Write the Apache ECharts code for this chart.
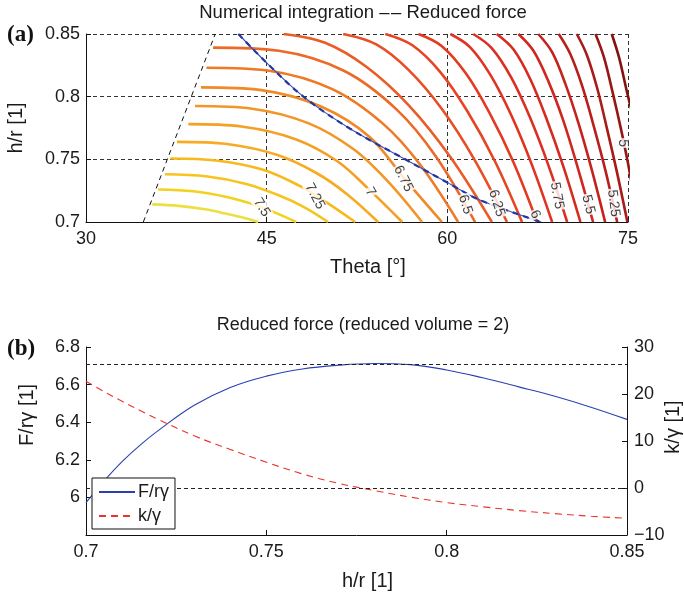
<!DOCTYPE html>
<html>
<head>
<meta charset="utf-8">
<script src="https://cdn.jsdelivr.net/npm/echarts@6/dist/echarts.min.js"></script>
<style>
  html, body { margin: 0; padding: 0; background: #fff; }
  #chart { width: 684px; height: 594px; }
</style>
</head>
<body>
<div id="chart"></div>
<script>
// ---- Panel (a): contour levels of the reduced force over (theta, h/r) ----
const contourLevels = [7.625, 7.5, 7.375, 7.25, 7.125, 7, 6.875, 6.75, 6.625, 6.5, 6.375, 6.25,
                       6.125, 6, 5.875, 5.75, 5.625, 5.5, 5.375, 5.25, 5.125, 5, 4.875];

const contourColors = ['#ece040', '#f3d21c', '#f7c41f', '#f8b91d', '#f6ab22', '#f4a025', '#f29627',
                       '#f08a27', '#ef7a25', '#ec6a25', '#ea5c25', '#e84f24', '#e64523', '#e33b22',
                       '#e03422', '#dc2f21', '#d62b20', '#cf271f', '#c4231d', '#b81f1b', '#a81b18',
                       '#961714', '#841310'];

// one polyline per level, [theta in degrees, h/r]
const contourPaths = [
  [[35.5, 0.7141], [37.7, 0.7129], [39.9, 0.7101], [41.6, 0.7067], [43.0, 0.7036], [44.3, 0.70]],
  [[36.0, 0.7259], [38.9, 0.7245], [41.7, 0.7199], [44.0, 0.7137], [45.7, 0.7075], [47.45, 0.70]],
  [[36.55, 0.7381], [39.95, 0.7365], [43.3, 0.7304], [46.0, 0.7213], [48.1, 0.7119], [50.1, 0.70]],
  [[37.0, 0.7507], [40.8, 0.7491], [44.7, 0.7417], [47.7, 0.7290], [50.0, 0.7155], [52.35, 0.70]],
  [[37.55, 0.7639], [41.7, 0.7622], [45.9, 0.7534], [49.2, 0.7387], [51.7, 0.7220], [54.25, 0.70]],
  [[38.5, 0.7781], [42.9, 0.7762], [47.4, 0.7661], [50.9, 0.7483], [53.6, 0.7250], [56.25, 0.70]],
  [[39.05, 0.7925], [43.8, 0.7904], [48.5, 0.7787], [52.25, 0.7578], [55.1, 0.7320], [57.9, 0.70]],
  [[39.55, 0.8074], [44.55, 0.8052], [49.55, 0.7920], [53.55, 0.7679], [56.4, 0.7350], [59.55, 0.70]],
  [[40.0, 0.8231], [45.2, 0.8207], [50.45, 0.8060], [54.65, 0.7785], [57.75, 0.7457], [60.9, 0.70]],
  [[40.55, 0.8391], [46.0, 0.8366], [51.45, 0.8205], [55.8, 0.7897], [59.05, 0.7523], [62.3, 0.70]],
  [[46.4, 0.85], [49.85, 0.8430], [53.3, 0.8237], [56.8, 0.7931], [60.25, 0.7519], [63.7, 0.70]],
  [[51.35, 0.85], [54.1, 0.8417], [56.8, 0.8212], [59.55, 0.7901], [62.25, 0.7497], [64.95, 0.70]],
  [[54.85, 0.85], [57.1, 0.8410], [59.4, 0.8198], [61.65, 0.7886], [63.95, 0.7485], [66.2, 0.70]],
  [[57.6, 0.85], [59.55, 0.8403], [61.55, 0.8184], [63.5, 0.7870], [65.5, 0.7474], [67.45, 0.70]],
  [[60.25, 0.85], [61.9, 0.8394], [63.6, 0.8170], [65.3, 0.7854], [67.0, 0.7462], [68.7, 0.70]],
  [[62.15, 0.85], [63.7, 0.8386], [65.3, 0.8154], [66.85, 0.7837], [68.4, 0.7450], [69.95, 0.70]],
  [[64.1, 0.85], [65.5, 0.8376], [66.9, 0.8137], [68.25, 0.7820], [69.65, 0.7438], [71.05, 0.70]],
  [[65.9, 0.85], [67.15, 0.8366], [68.4, 0.8120], [69.65, 0.7803], [70.85, 0.7426], [72.1, 0.70]],
  [[67.55, 0.85], [68.7, 0.8355], [69.8, 0.8102], [70.9, 0.7785], [72.0, 0.7414], [73.1, 0.70]],
  [[69.25, 0.85], [70.2, 0.8342], [71.2, 0.8084], [72.15, 0.7767], [73.15, 0.7402], [74.1, 0.70]],
  [[70.75, 0.85], [71.6, 0.8329], [72.45, 0.8065], [73.25, 0.7747], [74.1, 0.7390], [74.95, 0.70]],
  [[72.3, 0.85], [73.0, 0.8315], [73.7, 0.8044], [74.45, 0.7727], [75.0, 0.7468], [75.4, 0.725]],
  [[73.65, 0.85], [74.25, 0.8315], [74.9, 0.8044], [75.4, 0.785]]
];

// inline level labels
const labelLevels = [7.5, 7.25, 7, 6.75, 6.5, 6.25, 6, 5.75, 5.5, 5.25, 5];
const labelPoints = [[44.6, 0.7117], [49.0, 0.7205], [53.6, 0.7240], [56.35, 0.7345], [61.5, 0.7140],
                     [64.1, 0.7150], [67.3, 0.7060], [69.1, 0.7210], [71.7, 0.7140], [73.8, 0.7150],
                     [74.6, 0.7630]];

// left limit of the solution domain
const domainEdge = [[34.76, 0.70], [40.73, 0.85]];

// reduced-force curve
const reducedForcePath = [[42.65, 0.85], [45.0, 0.827], [48.05, 0.80], [51.9, 0.7746], [56.5, 0.75],
                          [60.0, 0.7315], [62.7, 0.7175], [67.8, 0.70]];

// ---- Panel (b): reduced force and k versus h/r ----
const hr = [0.70, 0.705, 0.71, 0.715, 0.72, 0.73, 0.74, 0.75, 0.76, 0.77, 0.78, 0.79, 0.80,
            0.81, 0.82, 0.83, 0.84, 0.85];
const forceValues = [5.972, 6.087, 6.19, 6.278, 6.355, 6.49, 6.585, 6.645, 6.683, 6.703, 6.712, 6.706,
                     6.678, 6.636, 6.588, 6.538, 6.48, 6.415];
const kValues = [22.7, 20.5, 18.45, 16.5, 14.6, 11.1, 8.2, 5.5, 3.0, 1.0, -0.55, -1.95, -3.1,
                 -4.0, -4.8, -5.45, -6.0, -6.45];

const FONT = '"Liberation Sans", Arial, Helvetica, sans-serif';
const labelAngles = [-58, -62, -60, -63, -73, -73, -65, -80, -76, -83, -90];

const chart = echarts.init(document.getElementById('chart'), null, { renderer: 'canvas' });

const dash = { type: [4, 3], color: '#333', width: 1 };
const axisBase = {
  axisLine: { show: true, onZero: false, lineStyle: { color: '#111', width: 1 } },
  axisTick: { show: true, inside: true, length: 5, lineStyle: { color: '#111' } },
  axisLabel: { fontFamily: FONT, fontSize: 18, color: '#1a1a1a' },
  nameTextStyle: { fontFamily: FONT, fontSize: 20, color: '#1a1a1a' },
  nameLocation: 'middle'
};
// horizontal axis titles sit a little right of the plot centre
const xNameStyle = Object.assign({}, axisBase.nameTextStyle, { padding: [0, 0, 0, 22] });

const series = [];

contourPaths.forEach((path, i) => {
  series.push({
    name: 'level ' + contourLevels[i],
    type: 'line', xAxisIndex: 0, yAxisIndex: 0,
    data: path, smooth: 0.35,
    symbol: 'none', silent: true, z: 2,
    lineStyle: { color: contourColors[i], width: 2.6, cap: 'butt' }
  });
});

series.push({
  name: 'domain edge', type: 'line', xAxisIndex: 0, yAxisIndex: 0,
  data: domainEdge, symbol: 'none', silent: true, z: 3,
  lineStyle: { color: '#111', width: 1, type: [5, 4] }
});

series.push({
  name: 'reduced force', type: 'line', xAxisIndex: 0, yAxisIndex: 0,
  data: reducedForcePath, smooth: 0.35, symbol: 'none', silent: true, z: 4,
  lineStyle: { color: '#3550c0', width: 1.1 }
});
series.push({
  name: 'reduced force overlay', type: 'line', xAxisIndex: 0, yAxisIndex: 0,
  data: reducedForcePath, smooth: 0.35, symbol: 'none', silent: true, z: 4,
  lineStyle: { color: '#24389a', width: 2.2, type: [6, 5] }
});

series.push({
  name: 'level labels', type: 'scatter', xAxisIndex: 0, yAxisIndex: 0,
  symbolSize: 0, silent: true, z: 6,
  data: labelPoints.map((p, i) => ({
    value: p,
    label: { formatter: String(labelLevels[i]), rotate: labelAngles[i] }
  })),
  label: {
    show: true, position: 'inside', fontFamily: FONT, fontSize: 14, color: '#111',
    backgroundColor: '#fff', padding: [0, 1]
  }
});

series.push({
  name: 'F/rγ', type: 'line', xAxisIndex: 1, yAxisIndex: 1,
  data: hr.map((x, i) => [x, forceValues[i]]), smooth: 0.4, symbol: 'none', z: 3,
  lineStyle: { color: '#2b40b0', width: 1.1 }, itemStyle: { color: '#2b40b0' },
  markLine: {
    silent: true, symbol: 'none', label: { show: false },
    lineStyle: { color: '#222', width: 1, type: [4, 3] },
    data: [{ yAxis: Math.max(...forceValues) }]
  }
});
series.push({
  name: 'k/γ', type: 'line', xAxisIndex: 1, yAxisIndex: 2,
  data: hr.map((x, i) => [x, kValues[i]]), smooth: 0.4, symbol: 'none', z: 3,
  lineStyle: { color: '#e8352e', width: 1.1, type: [7, 5] }, itemStyle: { color: '#e8352e' },
  markLine: {
    silent: true, symbol: 'none', label: { show: false },
    lineStyle: { color: '#222', width: 1, type: [4, 3] },
    data: [{ yAxis: 0 }]
  }
});

const option = {
  backgroundColor: '#fff',
  animation: false,
  title: [
    { text: 'Numerical integration \u2013\u200A\u2013 Reduced force', left: 363, top: 3, padding: 0, textAlign: 'center',
      textStyle: { fontFamily: FONT, fontSize: 18.5, fontWeight: 'normal', color: '#1a1a1a' } },
    { text: 'Reduced force (reduced volume = 2)', left: 363, top: 316, padding: 0, textAlign: 'center',
      textStyle: { fontFamily: FONT, fontSize: 18, fontWeight: 'normal', color: '#1a1a1a' } }
  ],
  graphic: [
    { type: 'text', left: 7, top: 24, style: { text: '(a)', font: 'bold 23px "Liberation Serif", "Times New Roman", serif', fill: '#111' } },
    { type: 'text', left: 7, top: 338, style: { text: '(b)', font: 'bold 23px "Liberation Serif", "Times New Roman", serif', fill: '#111' } }
  ],
  legend: {
    data: ['F/rγ', 'k/γ'], orient: 'vertical', left: 92, top: 478,
    backgroundColor: '#fff', borderColor: '#111', borderWidth: 1, borderRadius: 0,
    padding: [5, 6, 4, 6], itemWidth: 36, itemHeight: 12, itemGap: 6,
    itemStyle: { opacity: 0 },
    textStyle: { fontFamily: FONT, fontSize: 18, color: '#1a1a1a', padding: [0, 0, 0, -2] },
    z: 10
  },
  grid: [
    { left: 86, top: 34, width: 542, height: 188, outerBoundsMode: 'none', containLabel: false },
    { left: 86, top: 347, width: 541, height: 188, outerBoundsMode: 'none', containLabel: false }
  ],
  xAxis: [
    Object.assign({}, axisBase, {
      type: 'value', gridIndex: 0, min: 30, max: 75, interval: 15,
      name: 'Theta [°]', nameGap: 35, nameTextStyle: xNameStyle,
      axisLabel: Object.assign({}, axisBase.axisLabel, { margin: 8 }),
      splitLine: { show: true, lineStyle: dash }
    }),
    Object.assign({}, axisBase, {
      type: 'value', gridIndex: 1, min: 0.7, max: 0.85, interval: 0.05,
      name: 'h/r [1]', nameGap: 36, nameTextStyle: xNameStyle,
      axisLabel: Object.assign({}, axisBase.axisLabel, { margin: 8 }),
      splitLine: { show: false }
    })
  ],
  yAxis: [
    Object.assign({}, axisBase, {
      type: 'value', gridIndex: 0, min: 0.7, max: 0.85, interval: 0.05,
      name: 'h/r [1]', nameGap: 60, nameRotate: 90,
      axisLabel: Object.assign({}, axisBase.axisLabel, { margin: 6 }),
      splitLine: { show: true, lineStyle: dash }
    }),
    Object.assign({}, axisBase, {
      type: 'value', gridIndex: 1, min: 5.8, max: 6.8, interval: 0.2, position: 'left',
      name: 'F/rγ [1]', nameGap: 49, nameRotate: 90,
      nameTextStyle: Object.assign({}, axisBase.nameTextStyle, { padding: [0, 0, 0, 52] }),
      axisLabel: Object.assign({}, axisBase.axisLabel, { margin: 6, showMinLabel: false }),
      splitLine: { show: false }
    }),
    Object.assign({}, axisBase, {
      type: 'value', gridIndex: 1, min: -10, max: 30, interval: 10, position: 'right',
      name: 'k/γ [1]', nameGap: 36, nameRotate: 90, nameMoveOverlap: false,
      nameTextStyle: Object.assign({}, axisBase.nameTextStyle, { padding: [0, 0, 0, 28] }),
      axisLabel: Object.assign({}, axisBase.axisLabel, {
        margin: 7, formatter: v => String(v).replace('-', '\u2212')
      }),
      splitLine: { show: false }
    })
  ],
  series: series
};

chart.setOption(option);
</script>
</body>
</html>
